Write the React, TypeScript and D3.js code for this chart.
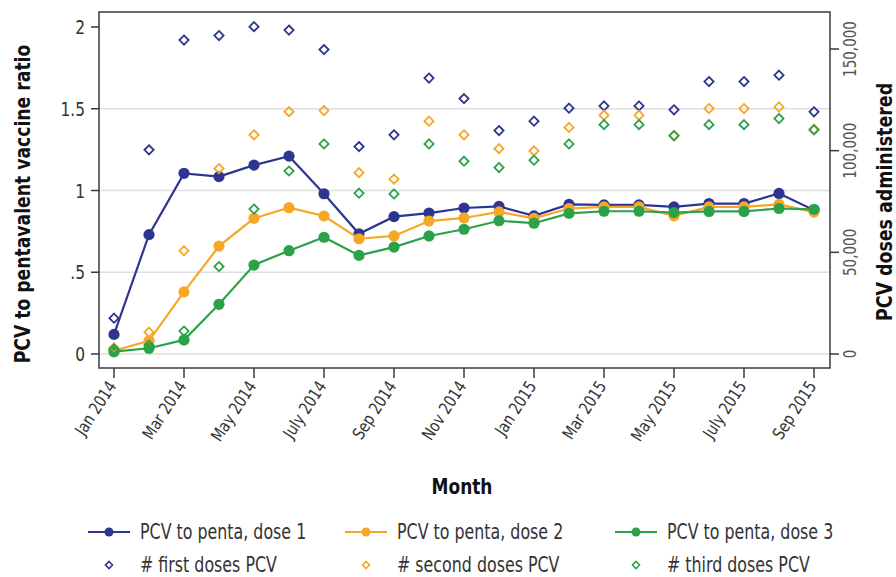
import React from 'react';
import * as d3 from 'd3';

const months = [
  'Jan 2014', 'Feb 2014', 'Mar 2014', 'Apr 2014', 'May 2014', 'Jun 2014', 'July 2014',
  'Aug 2014', 'Sep 2014', 'Oct 2014', 'Nov 2014', 'Dec 2014', 'Jan 2015', 'Feb 2015',
  'Mar 2015', 'Apr 2015', 'May 2015', 'Jun 2015', 'July 2015', 'Aug 2015', 'Sep 2015',
];
const monthTicks = ['Jan 2014', 'Mar 2014', 'May 2014', 'July 2014', 'Sep 2014', 'Nov 2014',
  'Jan 2015', 'Mar 2015', 'May 2015', 'July 2015', 'Sep 2015'];

// ratio PCV / penta
const ratioDose1 = [0.12, 0.73, 1.105, 1.085, 1.155, 1.21, 0.98, 0.735, 0.84, 0.862, 0.893, 0.903,
  0.845, 0.915, 0.912, 0.912, 0.9, 0.92, 0.92, 0.982, 0.88];
const ratioDose2 = [0.02, 0.08, 0.38, 0.66, 0.83, 0.895, 0.844, 0.705, 0.722, 0.813, 0.832, 0.869,
  0.83, 0.89, 0.9, 0.9, 0.845, 0.9, 0.9, 0.915, 0.868];
const ratioDose3 = [0.014, 0.035, 0.086, 0.304, 0.544, 0.632, 0.714, 0.603, 0.654, 0.722, 0.763, 0.815,
  0.8, 0.86, 0.873, 0.873, 0.865, 0.872, 0.872, 0.89, 0.885];

// doses administered
const firstDoses = [17600, 100400, 154400, 156600, 161000, 159300, 149700, 102000, 107800, 135700,
  125600, 109900, 114500, 120900, 122000, 122000, 120100, 134000, 134000, 137100, 119100];
const secondDoses = [3000, 10700, 50800, 91200, 107800, 119200, 119700, 89200, 86000, 114500,
  107800, 101000, 99900, 111400, 117400, 117400, 107500, 120700, 120700, 121500, 110600];
const thirdDoses = [2500, 4400, 11300, 43000, 71300, 90000, 103300, 79100, 78700, 103300,
  94800, 91700, 95300, 103300, 112800, 112800, 107300, 112800, 112800, 115800, 110200];

const leftTicks = [0, 0.5, 1, 1.5, 2];
const leftTickLabels = ['0', '.5', '1', '1.5', '2'];
const gridTicks = [0, 0.5, 1, 1.5];
const rightTicks = [0, 50000, 100000, 150000];

const navy = '#2e3590';
const orange = '#f6a726';
const green = '#2ba24a';

const lineSeries = [
  { name: 'PCV to penta, dose 1', values: ratioDose1, color: navy },
  { name: 'PCV to penta, dose 2', values: ratioDose2, color: orange },
  { name: 'PCV to penta, dose 3', values: ratioDose3, color: green },
];
const doseSeries = [
  { name: '# first doses PCV', values: firstDoses, color: navy },
  { name: '# second doses PCV', values: secondDoses, color: orange },
  { name: '# third doses PCV', values: thirdDoses, color: green },
];

const font = "'DejaVu Sans Condensed', 'Liberation Sans Narrow', sans-serif";
// squeeze text horizontally a bit, the original uses a narrow font
const squeeze = 0.86;

const frame = { left: 99, right: 830, top: 12, bottom: 368 };

const x = d3.scalePoint<string>().domain(months).range([114, 814]);
const yLeft = d3.scaleLinear().domain([0, 2]).range([354, 27]);
const yRight = d3.scaleLinear().domain([0, 150000]).range([354, 49]);

const diamond = (cx: number, cy: number, r: number) =>
  `M${cx},${cy - r}L${cx + r},${cy}L${cx},${cy + r}L${cx - r},${cy}Z`;

export default function App() {
  const line = d3.line<number>()
    .x((_, i) => x(months[i])!)
    .y((d) => yLeft(d));

  const legendCols = [88, 345, 615];

  return (
    <svg width={896} height={577} style={{ position: 'absolute', left: 0, top: 0, background: '#fff' }}
      fontFamily={font}>
      {/* grid */}
      {gridTicks.map((t) => (
        <line key={t} x1={frame.left} x2={frame.right} y1={yLeft(t)} y2={yLeft(t)}
          stroke="#dedede" strokeWidth={1.5} />
      ))}

      {/* ratio lines */}
      {lineSeries.map((s) => (
        <g key={s.name}>
          <path d={line(s.values)!} fill="none" stroke={s.color} strokeWidth={2.2} />
          {s.values.map((v, i) => (
            <circle key={i} cx={x(months[i])} cy={yLeft(v)} r={5.6} fill={s.color} />
          ))}
        </g>
      ))}

      {/* dose diamonds (right axis) */}
      {doseSeries.map((s) => (
        <g key={s.name}>
          {s.values.map((v, i) => (
            <path key={i} d={diamond(x(months[i])!, yRight(v), 4.6)} fill="none"
              stroke={s.color} strokeWidth={1.8} />
          ))}
        </g>
      ))}

      {/* frame */}
      <rect x={frame.left} y={frame.top} width={frame.right - frame.left} height={frame.bottom - frame.top}
        fill="none" stroke="#3a3a3a" strokeWidth={1.5} />

      {/* left axis */}
      {leftTicks.map((t, i) => (
        <g key={t}>
          <line x1={91} x2={frame.left} y1={yLeft(t)} y2={yLeft(t)} stroke="#3a3a3a" strokeWidth={1.5} />
          <text transform={`translate(85,${yLeft(t)}) scale(${squeeze},1)`} dy="0.35em" textAnchor="end"
            fontSize={20} fill="#333">
            {leftTickLabels[i]}
          </text>
        </g>
      ))}
      <text transform={`translate(30,204) rotate(-90) scale(0.87,1)`} textAnchor="middle" fontSize={22}
        fontWeight="bold" fill="#111">PCV to pentavalent vaccine ratio</text>

      {/* right axis */}
      {rightTicks.map((t) => (
        <g key={t}>
          <line x1={frame.right} x2={839} y1={yRight(t)} y2={yRight(t)} stroke="#3a3a3a" strokeWidth={1.5} />
          <text transform={`translate(856,${yRight(t)}) rotate(-90) scale(${squeeze},1)`} textAnchor="middle"
            fontSize={17.5} fill="#555">{d3.format(',')(t)}</text>
        </g>
      ))}
      <text transform={`translate(892,202) rotate(-90) scale(0.88,1)`} textAnchor="middle" fontSize={22}
        fontWeight="bold" fill="#111">PCV doses administered</text>

      {/* x axis */}
      {monthTicks.map((m) => (
        <g key={m}>
          <line x1={x(m)} x2={x(m)} y1={frame.bottom} y2={378} stroke="#3a3a3a" strokeWidth={1.5} />
          <text transform={`translate(${x(m)! + 3},386) rotate(-57) scale(0.9,1)`} textAnchor="end"
            fontSize={17} fill="#333">{m}</text>
        </g>
      ))}
      <text transform={`translate(462,494) scale(${squeeze},1)`} textAnchor="middle" fontSize={22}
        fontWeight="bold" fill="#111">Month</text>

      {/* legend */}
      {lineSeries.map((s, i) => (
        <g key={s.name} transform={`translate(${legendCols[i]},532)`}>
          <line x1={0} x2={42} y1={0} y2={0} stroke={s.color} strokeWidth={2.2} />
          <circle cx={21} cy={0} r={4.5} fill={s.color} />
          <text transform={`translate(52,0) scale(${squeeze},1)`} dy="0.35em" fontSize={20.5}
            fill="#333">{s.name}</text>
        </g>
      ))}
      {doseSeries.map((s, i) => (
        <g key={s.name} transform={`translate(${legendCols[i]},565)`}>
          <path d={diamond(21, 0, 3.5)} fill="none" stroke={s.color} strokeWidth={1.6} />
          <text transform={`translate(52,0) scale(${squeeze},1)`} dy="0.35em" fontSize={20.5}
            fill="#333">{s.name}</text>
        </g>
      ))}
    </svg>
  );
}
